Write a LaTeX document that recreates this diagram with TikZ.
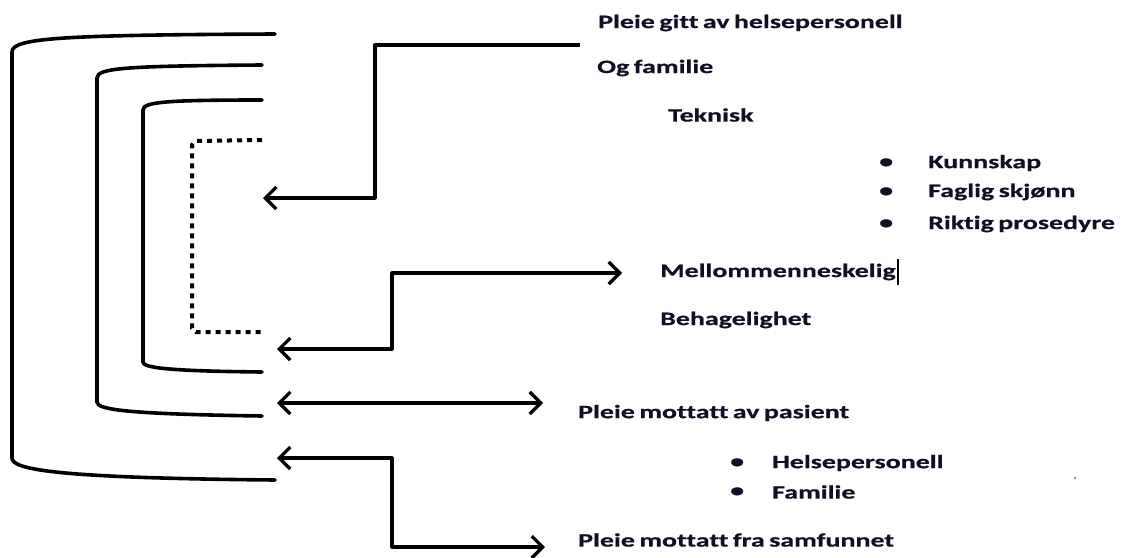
\documentclass[tikz,border=0pt]{standalone}
\usepackage{fontspec,xcolor}
\usetikzlibrary{arrows.meta}
\setmainfont{Carlito}[FakeStretch=1.47,RawFeature=-liga,WordSpace=0.7,BoldFeatures={FakeBold=0.6}]
\definecolor{ink}{HTML}{000000}
\definecolor{tekst}{HTML}{101024}
\definecolor{prikk}{HTML}{5A5AE0}
\newcommand{\etikett}{\fontsize{19}{21}\selectfont\bfseries}
\tikzset{klamme/.style={ink,line width=3.6pt,line cap=round},
  prikklinje/.style={ink,line width=4pt,dash pattern=on 5pt off 5pt},
  pil/.style={ink,line width=3.2pt,line join=round,-{Straight Barb[length=11pt,width=22pt,line width=3.2pt]}},
  dobbelpil/.style={ink,line width=3.2pt,line join=round,{Straight Barb[length=11pt,width=22pt,line width=3.2pt]}-{Straight Barb[length=11pt,width=22pt,line width=3.2pt]}},
  tekstnode/.style={anchor=west,inner sep=0,text=tekst,font=\etikett}}

\begin{document}
\begin{tikzpicture}[x=1pt,y=-1pt]
\useasboundingbox (0,0) rectangle (1122,557);
% klammer
\draw[klamme] (275,34) .. controls (60,35) and (12,38) .. (12,52) -- (12,458) .. controls (12,470) and (60,478) .. (275,480);
\draw[klamme] (262,65) .. controls (125,66) and (97,68) .. (97,78) -- (97,402) .. controls (97,410) and (130,414) .. (262,416);
\draw[klamme] (262,100) .. controls (165,100) and (143,102) .. (143,110) -- (143,362) .. controls (143,368) and (170,371) .. (262,372);
\draw[prikklinje] (262,140) -- (196,141) -- (192,145) -- (192,328) -- (196,332) -- (262,332);
% tekster
\node[tekstnode] (gitt) at (598,23) {Pleie gitt av helsepersonell};
\node[tekstnode] (familie) at (597,68) {Og familie};
\node[tekstnode] (teknisk) at (668,115) {Teknisk};
\node[tekstnode] (kunnskap) at (928,163) {Kunnskap};
\node[tekstnode] (skjonn) at (928,192) {Faglig skjønn};
\node[tekstnode] (prosedyre) at (928,224) {Riktig prosedyre};
\foreach \y in {163,192,224} \node[tekstnode] at (879,\y) {•};
\node[tekstnode] (mellom) at (660,272) {Mellommenneskelig};
\node[tekstnode] (behag) at (660,320) {Behagelighet};
\node[tekstnode] (pasient) at (578,413) {Pleie mottatt av pasient};
\node[tekstnode] (helse) at (772,463) {Helsepersonell};
\node[tekstnode] (fam) at (772,492) {Familie};
\foreach \y in {463,492} \node[tekstnode] at (730,\y) {•};
\node[tekstnode] (samfunn) at (578,540) {Pleie mottatt fra samfunnet};
\draw[ink,line width=1.6pt] (mellom.east) ++(2pt,-13pt) -- ++(0,26pt);
\fill[prikk] (1075,478) circle (1.2pt);
% piler
\coordinate (p1) at (580,45);
\coordinate (p1ende) at (263,198);
\coordinate (p2) at (277,349);
\coordinate (p2ende) at (622,273);
\coordinate (p3a) at (277,403);
\coordinate (p3b) at (543,403);
\coordinate (p4) at (277,458);
\coordinate (p4ende) at (545,547);
\draw[pil] (p1) -- (375,45) -- (375,198) -- (p1ende);
\draw[dobbelpil] (p2) -- (392,349) -- (392,273) -- (p2ende);
\draw[dobbelpil] (p3a) -- (p3b);
\draw[dobbelpil] (p4) -- (392,458) -- (392,547) -- (p4ende);
\end{tikzpicture}
\end{document}
